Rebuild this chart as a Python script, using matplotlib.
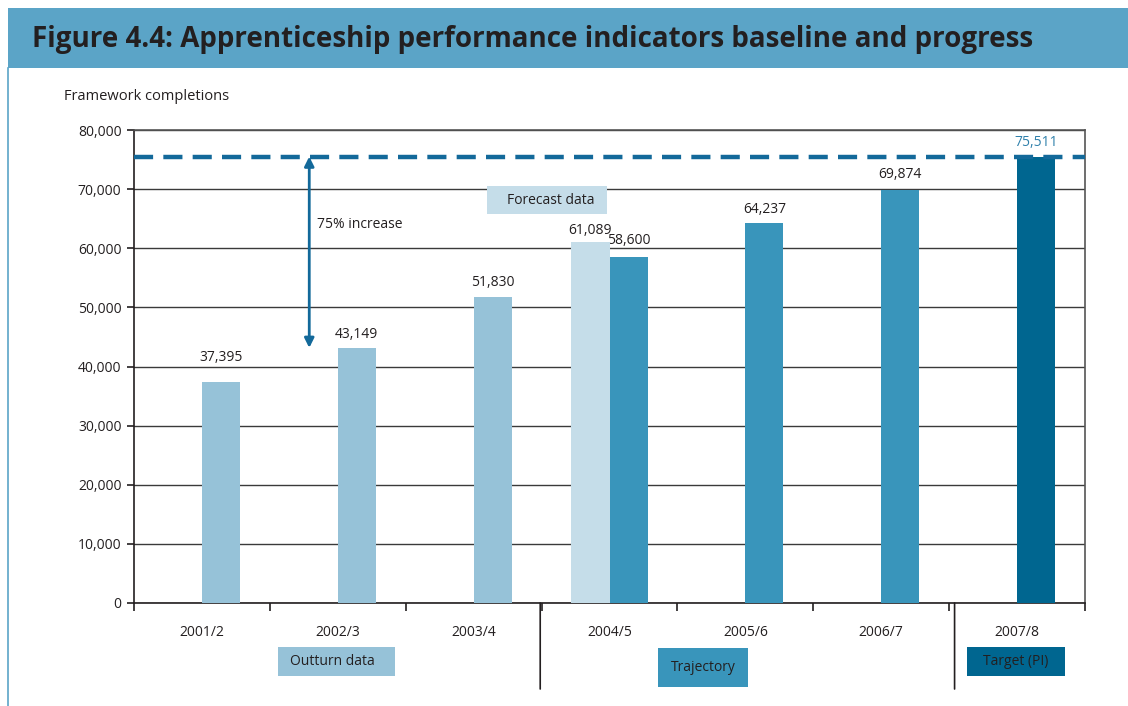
import numpy as np
import matplotlib
matplotlib.use('Agg')
import matplotlib.pyplot as plt
from matplotlib.patches import Rectangle
from matplotlib.ticker import FuncFormatter, MultipleLocator
from matplotlib import font_manager

plt.rcParams['font.family'] = ['Open Sans', 'DejaVu Sans']

# Data
years = ['2001/2', '2002/3', '2003/4', '2004/5', '2005/6', '2006/7', '2007/8']
main_values = [37395, 43149, 51830, 58600, 64237, 69874, 75511]
main_kind = ['outturn', 'outturn', 'outturn', 'trajectory', 'trajectory', 'trajectory', 'target']
forecast_year = '2004/5'
forecast_value = 61089
target_value = 75511
baseline_value = 43149

colors = {'outturn': '#96c2d8', 'forecast': '#c5dde9',
          'trajectory': '#3995bb', 'target': '#006690'}
line_color = '#13699a'
text_color = '#231f20'
banner_color = '#5ba4c7'

# label offsets above bars (points)
label_offsets = [12, 4.5, 4.5, 6, 4.5, 6, 5]

W, H = 1128, 706
fig = plt.figure(figsize=(W / 100, H / 100), dpi=100)


def px(x, y):
    # pixel coords (from top-left) -> figure fraction
    return x / W, 1 - y / H


names = {f.name for f in font_manager.fontManager.ttflist}
title_family = 'Liberation Sans Narrow' if 'Liberation Sans Narrow' in names else 'Open Sans'
title_size = 25 if title_family == 'Liberation Sans Narrow' else 20

# Title banner and left border
fig.patches.append(Rectangle(px(8, 68), (W - 8) / W, 60 / H, transform=fig.transFigure,
                             facecolor=banner_color, edgecolor='none'))
fig.lines.append(plt.Line2D([8 / W, 8 / W], [1 - 68 / H, 0], transform=fig.transFigure,
                            color=banner_color, lw=1.2))
fig.text(*px(32, 39), 'Figure 4.4: Apprenticeship performance indicators baseline and progress',
         fontsize=title_size, fontweight='bold', color=text_color, va='center', ha='left',
         family=title_family)
fig.text(*px(64, 96), 'Framework completions', fontsize=10.5, color=text_color,
         va='center', ha='left')

l, b = px(134, 603)
r, t = px(1085, 130)
ax = fig.add_axes([l, b, r - l, t - b])

x = np.arange(len(years))
w = 0.28

# Main bars (right slot)
bars = ax.bar(x + w / 2, main_values, width=w, color=[colors[k] for k in main_kind], zorder=3)
for bar, val, kind, off in zip(bars, main_values, main_kind, label_offsets):
    c = '#2f80ab' if kind == 'target' else text_color
    ax.annotate(f'{val:,}', (bar.get_x() + bar.get_width() / 2, val), xytext=(0, off),
                textcoords='offset points', ha='center', va='bottom', fontsize=10, color=c)

# Forecast bar (left slot)
fi = years.index(forecast_year)
ax.bar(fi - w / 2, forecast_value, width=w, color=colors['forecast'], zorder=3)
ax.annotate(f'{forecast_value:,}', (fi - w / 2, forecast_value), xytext=(0, 3),
            textcoords='offset points', ha='center', va='bottom', fontsize=10, color=text_color)

# Target line
ax.axhline(target_value, color=line_color, lw=3.2, dashes=(4.3, 2.3), zorder=4, clip_on=False)

# 75% increase arrow
ax.annotate('', xy=(0.79, target_value), xytext=(0.79, baseline_value),
            arrowprops=dict(arrowstyle='<|-|>', color=line_color, lw=2,
                            mutation_scale=14, shrinkA=0, shrinkB=0), zorder=5)
ax.text(0.85, 64000, '75% increase', fontsize=10, color=text_color, va='center', ha='left')

ax.set_xlim(-0.5, len(years) - 0.5)
ax.set_ylim(0, 80000)
ax.yaxis.set_major_locator(MultipleLocator(10000))
ax.yaxis.set_major_formatter(FuncFormatter(lambda v, p: f'{int(v):,}'))
ax.grid(axis='y', color='#3a3a3a', lw=1, zorder=1)
ax.set_xticks(np.arange(-0.5, len(years)))
ax.set_xticklabels([])
ax.tick_params(axis='x', length=6, color=text_color, width=1.2)
ax.tick_params(axis='y', length=5, color=text_color, width=1.2, labelsize=10,
               labelcolor=text_color, pad=4)
for s in ['left', 'bottom']:
    ax.spines[s].set_color(text_color)
    ax.spines[s].set_linewidth(1.2)
for s in ['top', 'right']:
    ax.spines[s].set_color('#555555')
    ax.spines[s].set_linewidth(1.2)

# Category labels
for xi, yr in zip(x, years):
    ax.annotate(yr, (xi, 0), xytext=(0, -29), textcoords='offset pixels', ha='center',
                va='center', fontsize=10, color=text_color, annotation_clip=False)

# Group separators
for sx in [2.49, 5.54]:
    ax.annotate('', xy=(sx, 0), xytext=(0, -86), textcoords='offset pixels',
                xycoords='data', annotation_clip=False,
                arrowprops=dict(arrowstyle='-', color=text_color, lw=1.2, shrinkA=0, shrinkB=0))

# Label boxes (forecast inside the plot, groups below the axis)
for (x0, y0, x1, y1, tx, label, kind) in [(487, 186, 607, 214, 507, 'Forecast data', 'forecast'),
                                          (278, 647, 395, 676, 290, 'Outturn data', 'outturn'),
                                          (658, 648, 748, 687, 671, 'Trajectory', 'trajectory'),
                                          (967, 647, 1065, 676, 983, 'Target (PI)', 'target')]:
    fig.patches.append(Rectangle(px(x0, y1), (x1 - x0) / W, (y1 - y0) / H,
                                 transform=fig.transFigure, facecolor=colors[kind],
                                 edgecolor='none', zorder=5))
    fig.text(*px(tx, (y0 + y1) / 2), label, fontsize=10, color=text_color,
             va='center', ha='left', zorder=6)

fig.savefig('out.png', dpi=100)
